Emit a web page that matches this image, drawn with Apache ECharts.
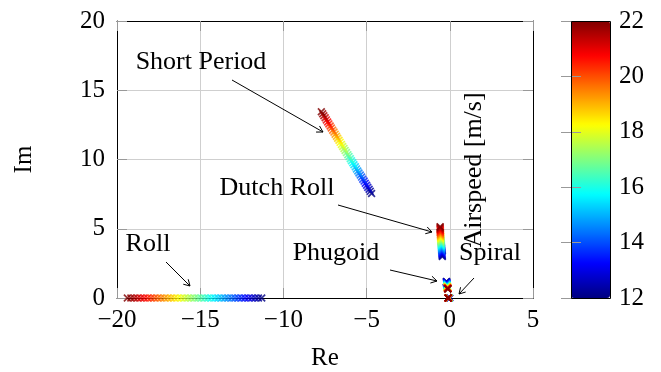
<!DOCTYPE html>
<html>
<head>
<meta charset="utf-8">
<script src="https://cdn.jsdelivr.net/npm/echarts@6/dist/echarts.min.js"></script>
<style>
  html, body { margin: 0; padding: 0; background: #fff; }
  #chart { width: 661px; height: 372px; }
</style>
</head>
<body>
<div id="chart"></div>
<script>
// airspeed [m/s] of every marker, same order in every mode below
const airspeed = [12, 12.25, 12.5, 12.75, 13, 13.25, 13.5, 13.75, 14, 14.25,
  14.5, 14.75, 15, 15.25, 15.5, 15.75, 16, 16.25, 16.5, 16.75,
  17, 17.25, 17.5, 17.75, 18, 18.25, 18.5, 18.75, 19, 19.25,
  19.5, 19.75, 20, 20.25, 20.5, 20.75, 21, 21.25, 21.5, 21.75, 22]

const rollRe = [-11.30, -11.50, -11.70, -11.90, -12.10, -12.31, -12.51, -12.71, -12.91, -13.11,
  -13.32, -13.52, -13.72, -13.92, -14.12, -14.33, -14.53, -14.73, -14.93, -15.13,
  -15.34, -15.54, -15.74, -15.94, -16.14, -16.35, -16.55, -16.75, -16.95, -17.15,
  -17.36, -17.56, -17.76, -17.96, -18.16, -18.37, -18.57, -18.77, -18.97, -19.17, -19.38]
const rollIm = [0, 0, 0, 0, 0, 0, 0, 0, 0, 0, 0, 0, 0, 0, 0, 0, 0, 0, 0, 0,
  0, 0, 0, 0, 0, 0, 0, 0, 0, 0, 0, 0, 0, 0, 0, 0, 0, 0, 0, 0, 0]

const shortRe = [-4.70, -4.78, -4.85, -4.93, -5.00, -5.08, -5.15, -5.23, -5.30, -5.38,
  -5.46, -5.53, -5.61, -5.68, -5.76, -5.83, -5.91, -5.98, -6.06, -6.13,
  -6.21, -6.29, -6.36, -6.44, -6.51, -6.59, -6.66, -6.74, -6.81, -6.89,
  -6.96, -7.04, -7.12, -7.19, -7.27, -7.34, -7.42, -7.49, -7.57, -7.64, -7.72]
const shortIm = [7.55, 7.70, 7.85, 7.99, 8.14, 8.29, 8.44, 8.58, 8.73, 8.88,
  9.03, 9.17, 9.32, 9.47, 9.62, 9.76, 9.91, 10.06, 10.21, 10.35,
  10.50, 10.65, 10.80, 10.94, 11.09, 11.24, 11.39, 11.53, 11.68, 11.83,
  11.98, 12.12, 12.27, 12.42, 12.57, 12.71, 12.86, 13.01, 13.16, 13.30, 13.45]

const dutchRe = [-0.45, -0.45, -0.46, -0.46, -0.47, -0.47, -0.47, -0.48, -0.48, -0.49,
  -0.49, -0.49, -0.50, -0.50, -0.51, -0.51, -0.51, -0.52, -0.52, -0.53,
  -0.53, -0.53, -0.54, -0.54, -0.54, -0.55, -0.55, -0.55, -0.56, -0.56,
  -0.56, -0.56, -0.57, -0.57, -0.57, -0.57, -0.58, -0.58, -0.58, -0.58, -0.58]
const dutchIm = [3.00, 3.05, 3.11, 3.16, 3.22, 3.27, 3.32, 3.38, 3.43, 3.48,
  3.54, 3.59, 3.65, 3.70, 3.75, 3.81, 3.86, 3.91, 3.97, 4.02,
  4.08, 4.13, 4.18, 4.24, 4.29, 4.34, 4.40, 4.45, 4.51, 4.56,
  4.61, 4.67, 4.72, 4.77, 4.83, 4.88, 4.94, 4.99, 5.04, 5.10, 5.15]

const phugoidRe = [-0.20, -0.20, -0.20, -0.19, -0.19, -0.19, -0.19, -0.18, -0.18, -0.18,
  -0.18, -0.17, -0.17, -0.17, -0.17, -0.16, -0.16, -0.16, -0.16, -0.16,
  -0.15, -0.15, -0.15, -0.15, -0.15, -0.14, -0.14, -0.14, -0.14, -0.14,
  -0.13, -0.13, -0.13, -0.13, -0.13, -0.13, -0.12, -0.12, -0.12, -0.12, -0.12]
const phugoidIm = [1.20, 1.18, 1.15, 1.13, 1.11, 1.09, 1.07, 1.05, 1.03, 1.01,
  0.99, 0.98, 0.96, 0.94, 0.93, 0.91, 0.90, 0.89, 0.87, 0.86,
  0.85, 0.83, 0.82, 0.81, 0.80, 0.79, 0.78, 0.77, 0.76, 0.75,
  0.74, 0.73, 0.72, 0.71, 0.70, 0.69, 0.69, 0.68, 0.67, 0.66, 0.65]

const spiralRe = [-0.02, -0.02, -0.02, -0.03, -0.03, -0.03, -0.03, -0.04, -0.04, -0.04,
  -0.04, -0.05, -0.05, -0.05, -0.05, -0.06, -0.06, -0.06, -0.06, -0.06,
  -0.07, -0.07, -0.07, -0.07, -0.07, -0.08, -0.08, -0.08, -0.08, -0.08,
  -0.09, -0.09, -0.09, -0.09, -0.09, -0.09, -0.10, -0.10, -0.10, -0.10, -0.10]
const spiralIm = [0, 0, 0, 0, 0, 0, 0, 0, 0, 0, 0, 0, 0, 0, 0, 0, 0, 0, 0, 0,
  0, 0, 0, 0, 0, 0, 0, 0, 0, 0, 0, 0, 0, 0, 0, 0, 0, 0, 0, 0, 0]

const modes = [
  { name: 'Roll', re: rollRe, im: rollIm },
  { name: 'Short Period', re: shortRe, im: shortIm },
  { name: 'Dutch Roll', re: dutchRe, im: dutchIm },
  { name: 'Phugoid', re: phugoidRe, im: phugoidIm },
  { name: 'Spiral', re: spiralRe, im: spiralIm },
]

// annotation text (centre x, middle y) and arrows, in pixels
const notes = [
  { text: 'Short Period', x: 201, y: 62, from: [232, 80], to: [323, 132] },
  { text: 'Dutch Roll', x: 277, y: 188, from: [338, 205], to: [432, 232] },
  { text: 'Roll', x: 148, y: 244, from: [166, 262], to: [190, 286] },
  { text: 'Phugoid', x: 336, y: 253, from: [390, 270], to: [437, 281] },
  { text: 'Spiral', x: 490, y: 253, from: [474, 278], to: [459, 294] },
]

const jet = ['#000080', '#0000ff', '#0080ff', '#00ffff', '#80ff80', '#ffff00', '#ff8000', '#ff0000', '#800000']
const cross = 'path://M0,1.5 L1.5,0 L5,3.5 L8.5,0 L10,1.5 L6.5,5 L10,8.5 L8.5,10 L5,6.5 L1.5,10 L0,8.5 L3.5,5 Z'
const font = 'Liberation Serif'
const minus = (v) => (v < 0 ? '\u2212' + Math.abs(v) : String(v))

const chart = echarts.init(document.getElementById('chart'))

const graphic = []
notes.forEach((n) => {
  graphic.push({
    type: 'text', x: n.x, y: n.y, z: 50,
    style: { text: n.text, font: '26px "' + font + '"', fill: '#000', textAlign: 'center', textVerticalAlign: 'middle' },
  })
  const [x1, y1] = n.from
  const [x2, y2] = n.to
  const a = Math.atan2(y2 - y1, x2 - x1)
  const L = 6, W = 3.5
  graphic.push({
    type: 'line', z: 50, silent: true,
    shape: { x1, y1, x2, y2 },
    style: { stroke: '#000', lineWidth: 1 },
  })
  graphic.push({
    type: 'polyline', z: 50, silent: true,
    shape: { points: [
      [x2 - L * Math.cos(a) + W * Math.sin(a), y2 - L * Math.sin(a) - W * Math.cos(a)],
      [x2, y2],
      [x2 - L * Math.cos(a) - W * Math.sin(a), y2 - L * Math.sin(a) + W * Math.cos(a)],
    ] },
    style: { stroke: '#000', lineWidth: 1, fill: null },
  })
})
graphic.push({
  type: 'text', x: 474, y: 170, rotation: Math.PI / 2, z: 50,
  style: { text: 'Airspeed [m/s]', font: '26px "' + font + '"', fill: '#000', textAlign: 'center', textVerticalAlign: 'middle' },
})
graphic.push({
  type: 'rect', z: 60, silent: true,
  shape: { x: 571.5, y: 21.5, width: 39, height: 277 },
  style: { stroke: '#000', lineWidth: 1, fill: null },
})

const tickStyle = { show: true, inside: true, length: 10, lineStyle: { color: '#999' } }
const frame = { show: true, onZero: false, lineStyle: { color: '#000', width: 1 } }
const labelStyle = { color: '#000', fontFamily: font, fontSize: 25 }

chart.setOption({
  animation: false,
  backgroundColor: '#fff',
  grid: [
    { left: 117, top: 21, width: 416, height: 277, outerBoundsMode: 'none' },
    { left: 571, top: 21, width: 39, height: 277, outerBoundsMode: 'none' },
  ],
  xAxis: [
    {
      type: 'value', min: -20, max: 5, interval: 5, gridIndex: 0, position: 'bottom',
      name: 'Re', nameLocation: 'middle', nameGap: 48,
      nameTextStyle: { color: '#000', fontFamily: font, fontSize: 25 },
      axisLine: frame, axisTick: tickStyle,
      axisLabel: { ...labelStyle, margin: 10, formatter: minus },
      splitLine: { show: true, lineStyle: { color: '#cfcfcf' } },
    },
    {
      type: 'value', min: -20, max: 5, interval: 5, gridIndex: 0, position: 'top',
      axisLine: frame, axisTick: tickStyle, axisLabel: { show: false }, splitLine: { show: false },
    },
    { type: 'value', gridIndex: 1, show: false, min: 0, max: 1 },
  ],
  yAxis: [
    {
      type: 'value', min: 0, max: 20, interval: 5, gridIndex: 0, position: 'left',
      name: 'Im', nameLocation: 'middle', nameGap: 80, nameRotate: 90,
      nameTextStyle: { color: '#000', fontFamily: font, fontSize: 25 },
      axisLine: frame, axisTick: tickStyle,
      axisLabel: { ...labelStyle, margin: 12 },
      splitLine: { show: true, lineStyle: { color: '#cfcfcf' } },
    },
    {
      type: 'value', min: 0, max: 20, interval: 5, gridIndex: 0, position: 'right',
      axisLine: frame, axisTick: tickStyle, axisLabel: { show: false }, splitLine: { show: false },
    },
    {
      type: 'value', min: 12, max: 22, interval: 2, gridIndex: 1, position: 'right', z: 10,
      axisLine: { show: false }, axisTick: tickStyle,
      axisLabel: { ...labelStyle, margin: 9 }, splitLine: { show: false },
    },
    {
      type: 'value', min: 12, max: 22, interval: 2, gridIndex: 1, position: 'left', z: 10,
      axisLine: { show: false }, axisTick: tickStyle,
      axisLabel: { show: false }, splitLine: { show: false },
    },
  ],
  visualMap: {
    type: 'continuous', min: 12, max: 22, dimension: 2,
    seriesIndex: [0, 1, 2, 3, 4],
    left: 571, top: 21, itemWidth: 39, itemHeight: 277, padding: 0,
    calculable: false, hoverLink: false,
    inRange: { color: jet },
  },
  graphic,
  series: modes.map((m) => ({
    name: m.name,
    type: 'scatter',
    xAxisIndex: 0, yAxisIndex: 0,
    symbol: cross,
    symbolSize: 8,
    data: airspeed.map((v, i) => [m.re[i], m.im[i], v]),
  })),
})
</script>
</body>
</html>
